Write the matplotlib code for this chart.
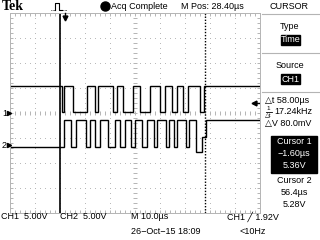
import numpy as np
import matplotlib.pyplot as plt
from matplotlib import font_manager

# scope settings
t_left, t_right = -21.6, 78.4      # us, 10 us/div, M Pos 28.40 us
volts_per_div = 5.0
ch1_offset = 0.0                   # divisions
ch2_offset = -1.28
trig_level = 1.92
cursor1_t, cursor2_t = -1.60, 56.4

# edge times (us) and segment levels (V)
ch1_edges = [-1.0, 0.0, 3.6, 9.2, 12.4, 13.6, 19.6, 21.2, 23.6, 27.6, 30.4,
             34.4, 38.4, 40.4, 43.2, 45.2, 47.6, 49.6, 54.4, 56.0]
ch1_levels = [5.4, 0.2, 5.5, 0.2, 5.5, 0.2, 5.5, 0.2, 5.5, 0.2, 5.5,
              0.2, 5.5, 0.2, 5.5, 0.2, 5.5, 0.2, 5.5, 0.2, 5.4]

ch2_edges = [0.0, 2.8, 4.8, 8.8, 10.4, 12.4, 14.4, 17.6, 20.4, 22.4, 24.4,
             26.8, 28.4, 31.2, 33.2, 36.0, 37.2, 40.8, 42.0, 44.0, 45.2,
             48.8, 50.0, 52.8, 55.0, 56.8]
ch2_levels = [-0.3, 5.0, -0.3, 5.0, -0.3, 5.0, -0.3, 5.0, -0.3, 5.0, -0.3,
              5.0, -0.3, 5.0, -0.3, 5.0, -0.3, 5.0, -0.3, 5.0, -0.3,
              5.0, -0.3, 5.0, -1.3, 1.6, 5.0]

# pick a narrow font if one is there, else shrink the regular one
names = {f.name for f in font_manager.fontManager.ttflist}
if 'Liberation Sans Narrow' in names:
    FONT, FS = ['Liberation Sans Narrow', 'DejaVu Sans'], 7.8
elif 'DejaVu Sans Condensed' in names:
    FONT, FS = ['DejaVu Sans Condensed', 'DejaVu Sans'], 7.0
else:
    FONT, FS = ['Liberation Sans', 'DejaVu Sans'], 6.5
GRID = '#b4b4b4'

fig = plt.figure(figsize=(3.2, 2.4), dpi=100)
fig.patch.set_facecolor('white')

# graticule: x 10..260 px, y 13..213 px
ax = fig.add_axes([10 / 320, 27 / 240, 250 / 320, 200 / 240])
ax.set_xlim(t_left, t_right)
ax.set_ylim(-4, 4)
ax.set_facecolor('white')
for s in ax.spines.values():
    s.set_color(GRID)
    s.set_linewidth(0.7)

ax.set_xticks(np.arange(t_left, t_right + 0.1, 10))
ax.set_xticks(np.arange(t_left, t_right + 0.1, 2), minor=True)
ax.set_yticks(np.arange(-4, 4.1, 1))
ax.set_yticks(np.arange(-4, 4.1, 0.2), minor=True)
ax.tick_params(which='both', direction='in', length=2.2, width=0.7,
               color=GRID, top=True, right=True,
               labelbottom=False, labelleft=False)

# dotted grid lines
xs_dots = np.arange(t_left, t_right + 0.1, 2)
ys_dots = np.arange(-4, 4.1, 0.2)
for k in range(1, 10):
    if k == 5:
        continue
    xg = t_left + 10 * k
    ax.plot(np.full_like(ys_dots, xg), ys_dots, 's', ms=0.6, mew=0, color=GRID)
for k in [-3, -2, -1, 1, 2, 3]:
    ax.plot(xs_dots, np.full_like(xs_dots, k), 's', ms=0.6, mew=0, color=GRID)
# center cross with ticks
tc = t_left + 50
ax.plot(np.full_like(ys_dots, tc), ys_dots, '_', ms=3.2, mew=0.7, color=GRID)
ax.plot(xs_dots, np.zeros_like(xs_dots), '|', ms=3.2, mew=0.7, color=GRID)


def trace(edges, levels, offset):
    xs = np.concatenate([[t_left], edges, [t_right]])
    ys = np.array(levels + [levels[-1]]) / volts_per_div + offset
    ax.step(xs, ys, where='post', color='black', lw=1.0, solid_joinstyle='miter')


trace(ch1_edges, ch1_levels, ch1_offset)
trace(ch2_edges, ch2_levels, ch2_offset)

# cursors
ax.axvline(cursor1_t, color='black', lw=1.2)
ax.axvline(cursor2_t, color='black', lw=1.0, ls=(0, (1, 1.2)))

# trigger level arrow on the right edge
ty = trig_level / volts_per_div + ch1_offset
ax.plot([t_right - 2.6, t_right - 0.6], [ty, ty], color='black', lw=1.0, clip_on=False)
ax.plot([t_right - 2.6], [ty], '<', ms=3.5, color='black', clip_on=False)

# overlay in pixel coordinates for all the screen text
ov = fig.add_axes([0, 0, 1, 1])
ov.set_xlim(0, 320)
ov.set_ylim(240, 0)
ov.axis('off')
ov.patch.set_alpha(0)


def txt(x, y, s, ha='left', color='black', size=FS, **kw):
    ov.text(x, y, s, ha=ha, va='center', color=color, fontsize=size,
            family=FONT, **kw)


ov.text(2, 6.5, 'Tek', ha='left', va='center', fontsize=10, fontweight='bold',
        family=['Liberation Serif', 'DejaVu Serif'])

# trigger status glyph
ov.plot([51, 54.5], [9.5, 9.5], color='black', lw=0.7, ls=(0, (0.6, 0.8)))
ov.plot([55, 55, 59, 59, 62], [9.5, 2.5, 2.5, 9.5, 9.5], color='black', lw=0.8)
ov.plot([62.5, 67], [9.5, 9.5], color='black', lw=0.7, ls=(0, (0.6, 0.8)))

ov.plot([104.5], [6], 'o', ms=6.5, color='black')
txt(111, 6.5, 'Acq Complete')
txt(181, 6.5, 'M Pos: 28.40\u00b5s')

# trigger position marker at top
ov.plot([64.5, 64.5], [13, 17], color='black', lw=1.0)
ov.plot([64.5], [17.5], 'v', ms=3.5, color='black')

# right side menu
for yl in [13.5, 52.5, 91.5]:
    ov.plot([262, 320], [yl, yl], color=GRID, lw=0.8)
txt(289, 6.5, 'CURSOR', ha='center')
txt(290, 26.5, 'Type', ha='center')
ov.add_patch(plt.Rectangle((281, 35), 19, 10, color='black'))
txt(290.5, 40, 'Time', ha='center', color='white')
txt(290, 65.5, 'Source', ha='center')
ov.add_patch(plt.Rectangle((281, 74), 19, 10, color='black'))
txt(290.5, 79, 'CH1', ha='center', color='white')

txt(265, 100.5, '\u25b3t 58.00\u00b5s')
txt(268.5, 108.8, '1', ha='center', size=4.5)
ov.plot([265.5, 271.5], [111.5, 111.5], color='black', lw=0.6)
txt(268.5, 115, '\u25b3t', ha='center', size=4.5)
txt(274, 112, '17.24kHz')
txt(265, 123.5, '\u25b3V 80.0mV')

ov.add_patch(plt.Rectangle((271, 135.5), 46, 37, color='black'))
txt(294, 141.5, 'Cursor 1', ha='center', color='white')
txt(294, 153.5, '\u22121.60\u00b5s', ha='center', color='white')
txt(294, 165.5, '5.36V', ha='center', color='white')
txt(294, 180.5, 'Cursor 2', ha='center')
txt(294, 192.5, '56.4\u00b5s', ha='center')
txt(294, 204.5, '5.28V', ha='center')

# channel ground markers
y1 = 113 - ch1_offset * 25
y2 = 113 - ch2_offset * 25
txt(2, y1, '1')
ov.plot([8.5], [y1], '>', ms=3, color='black')
txt(2, y2, '2')
ov.plot([8.5], [y2], '>', ms=3, color='black')

# bottom status lines
txt(1, 216.5, 'CH1  5.00V')
txt(60, 216.5, 'CH2  5.00V')
txt(131, 216.5, 'M 10.0\u00b5s')
txt(227, 216.5, 'CH1 \u2571 1.92V')
txt(131, 232, '26\u2212Oct\u221215 18:09')
txt(240, 232, '<10Hz')

fig.savefig('out.png', dpi=100)
